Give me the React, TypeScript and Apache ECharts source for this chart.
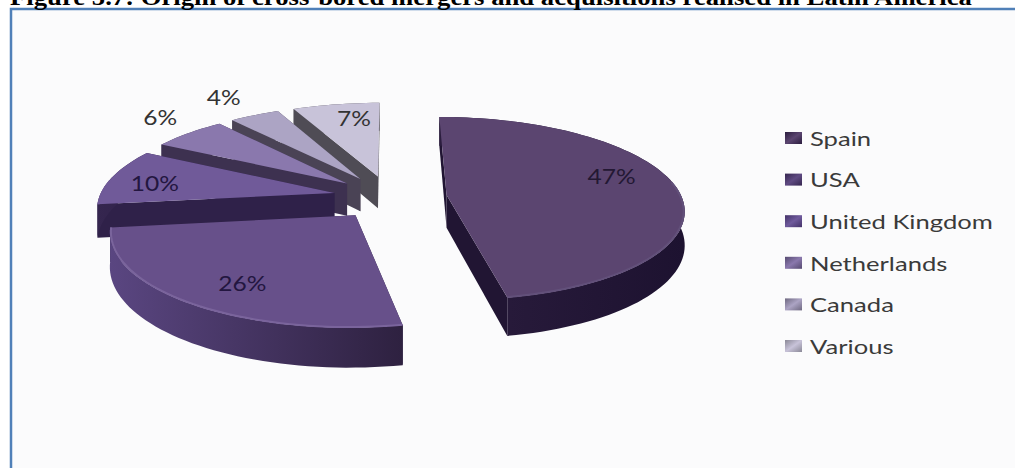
import React, { useEffect, useRef } from "react";
import * as echarts from "echarts";

const titleText = "Figure 5.7: Origin of cross-bored mergers and acquisitions realised in Latin America";
const countries = ["Spain", "USA", "United Kingdom", "Netherlands", "Canada", "Various"];
const shares = [47, 26, 10, 6, 4, 7];

// Colours of each slice: top face, cut faces, outer wall (left to right), rim highlight
const topColors = ["#5b4570", "#67508a", "#705a99", "#8a78ad", "#aca4c4", "#c8c3d9"];
const cutColors = ["#211533", "#2f2245", "#2f2149", "#3d3150", "#4a4355", "#4f4c55"];
const wallLeft = ["#2b1d3e", "#5a4681", "#35264f", "#3d3150", "#4a4355", "#4f4c55"];
const wallRight = ["#1d1230", "#2e2140", "#2f2149", "#3d3150", "#4a4355", "#4f4c55"];
const rimColors = ["#62507a", "#7a649c", "#705a99", "#8a78ad", "#aca4c4", "#c8c3d9"];
const labelColors = ["#231833", "#231640", "#231640", "#333333", "#333333", "#333333"];
const swatchLight = ["#5b4570", "#5f4a82", "#6f5a9c", "#8a78ad", "#aca4c4", "#c8c3d9"];
const swatchDark = ["#2b1d3e", "#35264f", "#433268", "#564a70", "#6e6880", "#8a8896"];

// Pixel nudge of each percentage from its slice's mid-angle point
const labelNudge = [[4, -13], [-1, 8], [-23, 1], [-73, -31], [-60, -36], [6.5, -6]];

// Projection of the exploded pie
const cx = 390;
const cy = 197;
const radius = 235;
const explode = 57;
const tilt = 0.383;
const perspective = 0.000625;
const thickness = 33;

const total = shares.reduce((a, b) => a + b, 0);
const startAngles: number[] = [];
shares.reduce((acc, v, i) => {
  startAngles[i] = (acc / total) * Math.PI * 2;
  return acc + v;
}, 0);

function project(worldX: number, worldZ: number, drop = 0): number[] {
  const s = 1 / (1 + perspective * worldZ);
  return [cx + worldX * s, cy - worldZ * s * tilt + drop * s];
}

const paintOrder = shares
  .map((_, i) => i)
  .sort((a, b) => {
    const midA = startAngles[a] + (shares[a] / total) * Math.PI;
    const midB = startAngles[b] + (shares[b] / total) * Math.PI;
    return Math.cos(midB) - Math.cos(midA);
  });

function renderSlice(_params: any, api: any) {
  const value = api.value(0);
  const index = api.value(1);
  const start = startAngles[index];
  const sweep = (value / total) * Math.PI * 2;
  const mid = start + sweep / 2;
  const ox = explode * Math.sin(mid);
  const oz = explode * Math.cos(mid);
  const at = (r: number, a: number, drop = 0) =>
    project(ox + r * Math.sin(a), oz + r * Math.cos(a), drop);

  const steps = Math.max(8, Math.round(sweep * 30));
  const rimTop: number[][] = [];
  const rimBottom: number[][] = [];
  const rimNear: number[][] = [];
  for (let k = 0; k <= steps; k++) {
    const a = start + (sweep * k) / steps;
    rimTop.push(at(radius, a));
    rimBottom.push(at(radius, a, thickness));
    if (Math.cos(a) < 0.15) rimNear.push(at(radius - 1, a));
  }
  const apexTop = at(0, 0);
  const apexBottom = at(0, 0, thickness);
  const end = start + sweep;

  const wallFill = new echarts.graphic.LinearGradient(0, 0, 1, 0, [
    { offset: 0, color: wallLeft[index] },
    { offset: 1, color: wallRight[index] },
  ]);

  const labelPoint = at(0.7 * radius, mid);
  const children: any[] = [
    {
      type: "polygon",
      shape: { points: [apexTop, at(radius, end), at(radius, end, thickness), apexBottom] },
      style: { fill: cutColors[index] },
    },
    {
      type: "polygon",
      shape: { points: [apexTop, at(radius, start), at(radius, start, thickness), apexBottom] },
      style: { fill: cutColors[index] },
    },
    {
      type: "polygon",
      shape: { points: [...rimTop, ...rimBottom.slice().reverse()] },
      style: { fill: wallFill },
    },
    {
      type: "polygon",
      shape: { points: [apexTop, ...rimTop] },
      style: { fill: topColors[index] },
    },
  ];
  if (rimNear.length > 1) {
    children.push({
      type: "polyline",
      shape: { points: rimNear },
      style: { stroke: rimColors[index], lineWidth: 2, fill: "none" },
    });
  }
  children.push({
    type: "text",
    x: labelPoint[0] + labelNudge[index][0],
    y: labelPoint[1] + labelNudge[index][1],
    scaleX: 1.17,
    style: {
      text: `${value}%`,
      fill: labelColors[index],
      font: "21px Lato",
      textAlign: "center",
      textVerticalAlign: "middle",
    },
  });
  return { type: "group", children };
}

export default function App() {
  const ref = useRef<HTMLDivElement>(null);
  useEffect(() => {
    const chart = echarts.init(ref.current!, undefined, { renderer: "svg" });
    const legendItems = countries.flatMap((name, i) => {
      const y = 138 + i * 41.6;
      return [
        {
          type: "rect",
          shape: { x: 785, y: y - 6, width: 17, height: 12 },
          style: {
            fill: new echarts.graphic.LinearGradient(0, 0, 1, 1, [
              { offset: 0, color: swatchDark[i] },
              { offset: 0.5, color: swatchLight[i] },
              { offset: 1, color: swatchDark[i] },
            ]),
          },
        },
        {
          type: "text",
          x: 810,
          y,
          scaleX: 1.28,
          style: { text: name, fill: "#3a3a3a", font: "20px Lato", textVerticalAlign: "middle" },
        },
      ];
    });
    chart.setOption({
      animation: false,
      backgroundColor: "#ffffff",
      graphic: [
        {
          type: "rect",
          z: -1,
          shape: { x: 11, y: 9, width: 1040, height: 500 },
          style: { fill: "#fbfbfc", stroke: "#5080b8", lineWidth: 2.5 },
        },
        {
          type: "text",
          x: 10,
          y: 8,
          scaleX: 1.113,
          z: 3,
          style: {
            text: titleText,
            fill: "#000000",
            font: "bold 24px 'Liberation Serif'",
            textVerticalAlign: "bottom",
          },
        },
        ...legendItems,
      ],
      series: [
        {
          type: "custom",
          coordinateSystem: "none",
          renderItem: renderSlice,
          data: paintOrder.map((i) => [shares[i], i]),
          silent: true,
        },
      ],
    });
    return () => chart.dispose();
  }, []);
  return <div ref={ref} style={{ position: "fixed", left: 0, top: 0, width: 1015, height: 468 }} />;
}
